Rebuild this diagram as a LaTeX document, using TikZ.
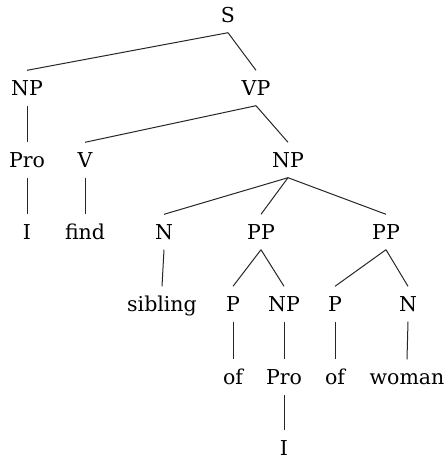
\documentclass[tikz,border=0pt]{standalone}
\usepackage{fontspec}
\setmainfont{DejaVu Serif}
\begin{document}
\begin{tikzpicture}[x=1pt,y=-1pt,
  lbl/.style={inner sep=0pt, minimum height=35pt, text height=15pt, text depth=0pt,
    font=\fontsize{20.5}{24}\selectfont, text=black},
  edge/.style={line width=1pt, draw=black!85}]
\useasboundingbox (0,0) rectangle (447,459);
\node[lbl] (S)   at (228,15) {S};
\node[lbl] (NPa) at (27,88) {NP};
\node[lbl] (VP)  at (256,88) {VP};
\node[lbl] (ProA) at (27,160) {Pro};
\node[lbl] (V)   at (85,160) {V};
\node[lbl] (NPb) at (288,160) {NP};
\node[lbl] (Ia)  at (27,232) {I};
\node[lbl] (find) at (85,232) {find};
\node[lbl] (Na)  at (164,232) {N};
\node[lbl] (PPa) at (261,232) {PP};
\node[lbl] (PPb) at (386,232) {PP};
\node[lbl] (sib) at (162,304) {sibling};
\node[lbl] (Pa)  at (233,304) {P};
\node[lbl] (NPc) at (284,304) {NP};
\node[lbl] (Pb)  at (335,304) {P};
\node[lbl] (Nb)  at (408,304) {N};
\node[lbl] (ofa) at (233,377) {of};
\node[lbl] (ProB) at (284,377) {Pro};
\node[lbl] (ofb) at (335,377) {of};
\node[lbl] (woman) at (407,377) {woman};
\node[lbl] (Ib)  at (284,448) {I};
\foreach \a/\b in {S/NPa, S/VP, NPa/ProA, ProA/Ia, VP/V, VP/NPb, V/find,
  NPb/Na, NPb/PPa, NPb/PPb, Na/sib, PPa/Pa, PPa/NPc, PPb/Pb, PPb/Nb,
  Pa/ofa, NPc/ProB, Pb/ofb, Nb/woman, ProB/Ib}
  \draw[edge] (\a.south) -- (\b.north);
\end{tikzpicture}
\end{document}
